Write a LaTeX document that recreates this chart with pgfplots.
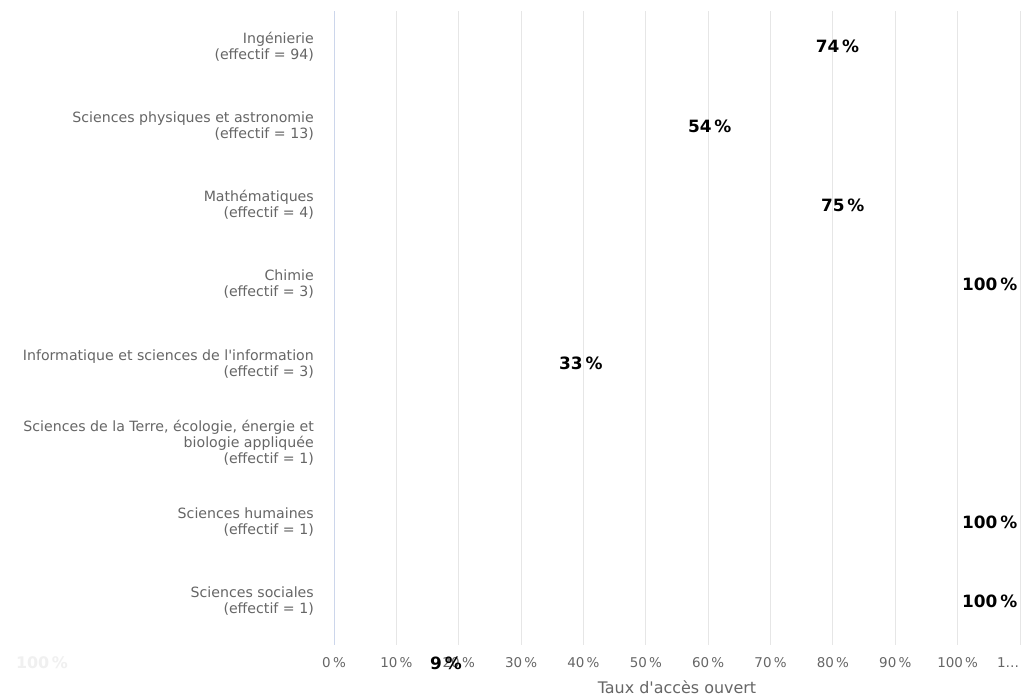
\documentclass[border=0pt]{standalone}
\usepackage{fontspec}
\setmainfont{DejaVu Sans}
\usepackage{pgfplots}
\usepackage{pgfplotstable}
\pgfplotsset{compat=1.18}

\definecolor{gridgray}{HTML}{E6E6E6}
\definecolor{axisblue}{HTML}{CCD6EB}
\definecolor{labelgray}{HTML}{666666}

% y: 7 = Ingenierie (top) ... 0 = Sciences sociales (bottom)
% dx: horizontal offset (bp) of the label centre from the bar end
\pgfplotstableread{
y val dx
7 74  42
6 54  39
5 75  41
4 100 32
3 33  41
1 100 32
0 100 32
}\opendata

\begin{document}
\begin{tikzpicture}[x=1bp,y=1bp]
\path[use as bounding box, fill=white] (0,0) rectangle (1024,699);
\begin{axis}[
    at={(334bp,54bp)}, anchor=south west,
    scale only axis,
    width=686bp, height=634bp,
    xmin=0, xmax=110,
    ymin=-0.5, ymax=7.5,
    axis lines*=left,
    x axis line style={draw=none},
    y axis line style={axisblue, line width=1bp},
    major tick length=0pt,
    xmajorgrids,
    grid style={gridgray, line width=1bp},
    /pgf/number format/assume math mode=true,
    xtick={0,10,...,110},
    xticklabels={0\,\%,10\,\%,20\,\%,30\,\%,40\,\%,50\,\%,60\,\%,70\,\%,80\,\%,90\,\%,100\,\%,},
    extra x ticks={110},
    extra x tick labels={1…},
    extra x tick style={xticklabel style={xshift=-12bp}},
    xticklabel style={font=\fontsize{13.5}{15}\selectfont, text=labelgray, inner sep=0pt, yshift=-12bp},
    ytick={0,...,7},
    yticklabels={
        {Sciences sociales\\(effectif = 1)},
        {Sciences humaines\\(effectif = 1)},
        {Sciences de la Terre, écologie, énergie et\\biologie appliquée\\(effectif = 1)},
        {Informatique et sciences de l\textquotesingle information\\(effectif = 3)},
        {Chimie\\(effectif = 3)},
        {Mathématiques\\(effectif = 4)},
        {Sciences physiques et astronomie\\(effectif = 13)},
        {Ingénierie\\(effectif = 94)}},
    yticklabel style={font=\fontsize{14.2}{16}\selectfont, text=labelgray, align=right, inner sep=0pt, xshift=-20bp, yshift=4bp},
    xlabel={Taux d\textquotesingle accès ouvert},
    xlabel style={font=\fontsize{16}{18}\selectfont, text=labelgray, inner sep=0pt, yshift=-13bp},
    clip=false,
]
\addplot[
    xbar, draw=none, fill=none, bar width=20bp,
    point meta=x,
    visualization depends on={\thisrow{dx} \as \dx},
    nodes near coords={\pgfmathprintnumber{\pgfplotspointmeta}\,\%},
    nodes near coords style={anchor=center, inner sep=0pt, xshift=\dx bp, yshift=4bp,
        font=\fontsize{17}{19}\selectfont\bfseries, text=black},
] table[x=val, y=y] {\opendata};
\end{axis}
% labels drawn below the plot area in the reference
\node[font=\fontsize{17}{19}\selectfont\bfseries, inner sep=0pt] at (446,36) {9\,\%};
\node[font=\fontsize{16}{18}\selectfont\bfseries, text=gray!12, inner sep=0pt] at (42,36) {100\,\%};
\end{tikzpicture}
\end{document}
